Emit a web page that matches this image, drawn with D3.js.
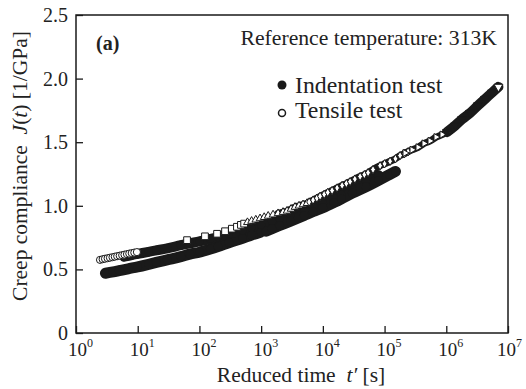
<!DOCTYPE html>
<html>
<head>
<meta charset="utf-8">
<script src="https://cdn.jsdelivr.net/npm/d3@7/dist/d3.min.js"></script>
<style>
  html, body { margin: 0; padding: 0; background: #fff; }
  svg { display: block; }
</style>
</head>
<body>
<svg id="chart" width="526" height="389"></svg>
<script>
// ---------------- data ----------------
const xTickValues = [1e0, 1e1, 1e2, 1e3, 1e4, 1e5, 1e6, 1e7];
const xTickExponents = ["0", "1", "2", "3", "4", "5", "6", "7"];
const yTickValues = [0, 0.5, 1.0, 1.5, 2.0, 2.5];
const yTickLabels = ["0", "0.5", "1.0", "1.5", "2.0", "2.5"];

// Indentation test (filled circles), three shifted segments
const indentLowT = [3, 4, 5, 7, 10, 15, 20, 30, 50, 70, 100, 150, 200, 300, 500, 700, 1000];
const indentLowJ = [0.47, 0.48, 0.49, 0.505, 0.52, 0.54, 0.555, 0.575, 0.60, 0.62, 0.635, 0.66, 0.68, 0.71, 0.745, 0.77, 0.795];
const indentUpT = [6, 8, 10, 15, 20, 30, 50, 70, 100, 150, 200, 300, 500, 700, 1000, 1500, 2000, 3000, 5000, 7000, 10000, 15000, 20000, 30000, 50000, 80000];
const indentUpJ = [0.60, 0.613, 0.622, 0.638, 0.65, 0.665, 0.69, 0.705, 0.72, 0.74, 0.755, 0.78, 0.81, 0.83, 0.85, 0.88, 0.90, 0.93, 0.965, 0.99, 1.02, 1.06, 1.09, 1.13, 1.19, 1.24];
const indentHighT = [1200, 1500, 2000, 3000, 5000, 7000, 10000, 15000, 20000, 30000, 50000, 80000, 120000, 150000];
const indentHighJ = [0.80, 0.82, 0.845, 0.88, 0.925, 0.955, 0.985, 1.025, 1.055, 1.10, 1.15, 1.20, 1.245, 1.27];

// Tensile test (open markers), one segment per temperature
const tensCircT = [2.45, 2.7, 2.95, 3.25, 3.55, 3.9, 4.25, 4.65, 5.1, 5.6, 6.1, 6.7, 7.3, 8.0, 8.8, 9.7];
const tensCircJ = [0.575, 0.58, 0.584, 0.588, 0.592, 0.596, 0.60, 0.604, 0.608, 0.612, 0.616, 0.62, 0.624, 0.628, 0.632, 0.636];
const tensSquareT = [63, 123, 193, 260, 335, 405, 470, 530];
const tensSquareJ = [0.73, 0.76, 0.78, 0.80, 0.82, 0.835, 0.85, 0.86];
const tensTriT = [600, 700, 820, 960, 1120, 1300, 1560, 1880, 2265, 2630, 3055, 3540, 4110, 4775, 5545];
const tensTriJ = [0.87, 0.88, 0.89, 0.90, 0.91, 0.92, 0.93, 0.94, 0.95, 0.96, 0.975, 0.99, 1.0, 1.01, 1.02];
const tensDiamT = [6000, 6940, 8000, 9010, 10500, 12000, 14100, 17000, 20500, 24000, 27600, 33000, 40100, 47000, 54000, 65000, 84600, 100000, 122800, 150000, 178300, 210000, 240400];
const tensDiamJ = [1.03, 1.045, 1.06, 1.075, 1.09, 1.105, 1.12, 1.14, 1.16, 1.175, 1.19, 1.21, 1.23, 1.245, 1.26, 1.285, 1.315, 1.33, 1.35, 1.37, 1.395, 1.41, 1.425];
const tensRightT = [214800, 279000, 349000, 436000, 546000, 683000, 855000, 1030000];
const tensRightJ = [1.415, 1.44, 1.46, 1.49, 1.51, 1.54, 1.56, 1.58];
const tensDownT = [1030000, 1390000, 1800000, 2430000, 3280000, 4260000, 5520000, 7000000];
const tensDownJ = [1.58, 1.63, 1.68, 1.73, 1.79, 1.84, 1.89, 1.935];

const legendLabels = ["Indentation test", "Tensile test"];
const annotation = "Reference temperature: 313K";
const panelLabel = "(a)";

// ---------------- chart ----------------
const svg = d3.select("#chart");
const W = 526, H = 389;
const m = { left: 76, right: 508, top: 15, bottom: 333 };

const x = d3.scaleLog().domain([1, 1e7]).range([m.left, m.right]);
const y = d3.scaleLinear().domain([0, 2.5]).range([m.bottom, m.top]);

const ink = "#1a1a1a";
const FONT = '"Liberation Serif"';
const txt = sel => sel.style("font-family", FONT).style("fill", "#222");

// frame
svg.append("rect")
  .attr("x", m.left).attr("y", m.top)
  .attr("width", m.right - m.left).attr("height", m.bottom - m.top)
  .attr("fill", "none").attr("stroke", ink).attr("stroke-width", 1.5);

// x axis (ticks inward)
const xAxis = svg.append("g")
  .attr("transform", `translate(0,${m.bottom})`)
  .call(d3.axisBottom(x).tickValues(xTickValues).tickSize(-7).tickFormat(""));
xAxis.select(".domain").remove();
xAxis.selectAll(".tick line").attr("stroke", ink).attr("stroke-width", 1.3);

xTickValues.forEach((v, i) => {
  const px = x(v);
  const start = Math.min(px - 8, W - 29);
  const g = svg.append("text").attr("x", start).attr("y", 356)
    .call(txt).style("font-size", "19px");
  g.append("tspan").text("10");
  g.append("tspan").style("font-size", "12px").attr("dy", -9).text(xTickExponents[i]);
});

// y axis (ticks inward)
const yAxis = svg.append("g")
  .attr("transform", `translate(${m.left},0)`)
  .call(d3.axisLeft(y).tickValues(yTickValues).tickSize(-7).tickPadding(8)
    .tickFormat((d, i) => yTickLabels[i]));
yAxis.attr("font-family", null).attr("font-size", null);
yAxis.select(".domain").remove();
yAxis.selectAll(".tick line").attr("stroke", ink).attr("stroke-width", 1.3);
yAxis.selectAll(".tick text").call(txt).style("font-size", "20px");

// axis titles
const xt = svg.append("text").attr("x", 301).attr("y", 382)
  .attr("text-anchor", "middle").call(txt).style("font-size", "21.5px");
xt.append("tspan").text("Reduced time\u00a0\u00a0");
xt.append("tspan").style("font-style", "italic").text("t\u2032");
xt.append("tspan").text(" [s]");

const yt = svg.append("text")
  .attr("transform", "translate(27,166) rotate(-90)")
  .attr("text-anchor", "middle").call(txt).style("font-size", "21.5px");
yt.append("tspan").text("Creep compliance\u00a0\u00a0");
yt.append("tspan").style("font-style", "italic").text("J");
yt.append("tspan").text("(");
yt.append("tspan").style("font-style", "italic").text("t");
yt.append("tspan").text(") [1/GPa]");

// annotations
svg.append("text").attr("x", 96).attr("y", 50).call(txt)
  .style("font-size", "20px").style("font-weight", "bold").text(panelLabel);
svg.append("text").attr("x", 497).attr("y", 45).call(txt)
  .attr("text-anchor", "end").style("font-size", "21.7px").text(annotation);

// legend
svg.append("circle").attr("cx", 282).attr("cy", 85).attr("r", 4.5).attr("fill", ink);
svg.append("text").attr("x", 295).attr("y", 93).call(txt)
  .style("font-size", "23.8px").text(legendLabels[0]);
svg.append("circle").attr("cx", 282).attr("cy", 113).attr("r", 3.5)
  .attr("fill", "#fff").attr("stroke", ink).attr("stroke-width", 1.5);
svg.append("text").attr("x", 295).attr("y", 118).call(txt)
  .style("font-size", "23.8px").text(legendLabels[1]);

// data
const plot = svg.append("g");
const line = d3.line().x(d => x(d[0])).y(d => y(d[1])).curve(d3.curveMonotoneX);

function band(T, J, width) {
  plot.append("path").datum(d3.zip(T, J))
    .attr("d", line).attr("fill", "none").attr("stroke", ink)
    .attr("stroke-width", width).attr("stroke-linecap", "round").attr("stroke-linejoin", "round");
}
function markers(T, J, type, size, rot, fill, lastFill) {
  const pts = d3.zip(T, J);
  plot.append("g").selectAll("path").data(pts).join("path")
    .attr("d", d3.symbol().type(type).size(size))
    .attr("transform", d => `translate(${x(d[0])},${y(d[1])}) rotate(${rot})`)
    .attr("fill", (d, i) => (lastFill && i === pts.length - 1) ? lastFill : fill)
    .attr("stroke", ink).attr("stroke-width", 1);
}

// indentation bands
band(indentLowT, indentLowJ, 11);
band(indentUpT, indentUpJ, 10);
band(indentHighT, indentHighJ, 11);
markers(indentLowT, indentLowJ, d3.symbolCircle, 60, 0, ink);
markers(indentUpT, indentUpJ, d3.symbolCircle, 55, 0, ink);
markers(indentHighT, indentHighJ, d3.symbolCircle, 60, 0, ink);

// tensile
band(tensTriT.slice(7), tensTriJ.slice(7), 7);
band(tensDiamT, tensDiamJ, 7);
band(tensRightT, tensRightJ, 7);
band(tensDownT, tensDownJ, 10);
markers(tensCircT, tensCircJ, d3.symbolCircle, 40, 0, "#fff");
markers(tensSquareT, tensSquareJ, d3.symbolSquare, 45, 0, "#fff");
markers(tensTriT, tensTriJ, d3.symbolTriangle, 26, 0, "#fff");
markers(tensDiamT, tensDiamJ, d3.symbolDiamond, 20, 0, "#fff");
markers(tensRightT, tensRightJ, d3.symbolTriangle, 22, 90, "#fff");
markers(tensDownT, tensDownJ, d3.symbolTriangle, 34, 180, ink, "#fff");
</script>
</body>
</html>
